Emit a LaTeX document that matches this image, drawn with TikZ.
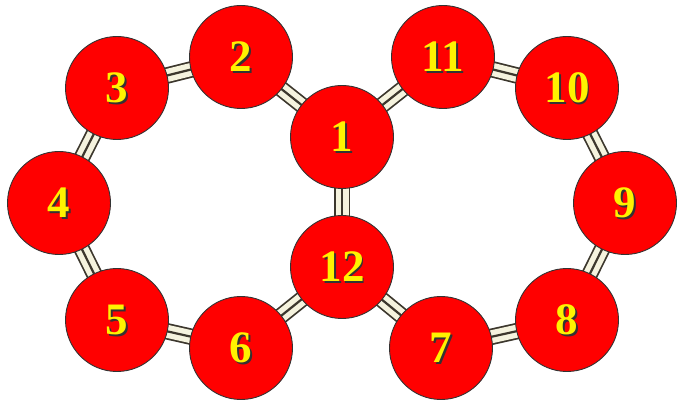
\documentclass[tikz,border=0pt]{standalone}
\usepackage{fontspec}
\setmainfont{Liberation Serif}
\usetikzlibrary{positioning}
\usetikzlibrary{shapes,backgrounds,calc}
\definecolor{bondfill}{RGB}{245,243,222}
\definecolor{bondline}{RGB}{60,55,45}
\tikzset{
    % Define bond style (three dark lines, two light stripes)
    bond/.style={
           draw=bondline,
           line width=16.5pt,
           postaction={draw=bondfill, line width=13pt},
           postaction={draw=bondline, line width=2.2pt},}
}
\newcommand{\atomsize}{103pt}
\newcommand{\atomfont}{\fontsize{45}{45}\selectfont\bfseries}

\begin{document}
\begin{tikzpicture}[x=1pt, y=-1pt]
\tikzset{atom/.style={ circle,
                  draw=black!80, line width=0.9pt,
                  fill=red,
                  minimum size=\atomsize, inner sep=0pt,
                  text=yellow, font=\atomfont,
                  path picture={\node[text=black!80, font=\atomfont]
                     at ([xshift=1.8pt,yshift=-1.8pt]path picture bounding box.center) {#1};}}}

\useasboundingbox (0,0) rectangle (680,403);

\node[atom=1]  (a1)  at (342,137) {1};
\node[atom=2]  (a2)  at (241,57)  {2};
\node[atom=3]  (a3)  at (117,88)  {3};
\node[atom=4]  (a4)  at (59,203)  {4};
\node[atom=5]  (a5)  at (117,320) {5};
\node[atom=6]  (a6)  at (241,348) {6};
\node[atom=12] (a12) at (342,267) {12};
\node[atom=7]  (a7)  at (441,348) {7};
\node[atom=8]  (a8)  at (567,320) {8};
\node[atom=9]  (a9)  at (625,203) {9};
\node[atom=10] (a10) at (567,88)  {10};
\node[atom=11] (a11) at (443,57)  {11};

\begin{scope}[on background layer]
\draw[bond] (a1.center)  -- (a2.center);
\draw[bond] (a2.center)  -- (a3.center);
\draw[bond] (a3.center)  -- (a4.center);
\draw[bond] (a4.center)  -- (a5.center);
\draw[bond] (a5.center)  -- (a6.center);
\draw[bond] (a6.center)  -- (a12.center);
\draw[bond] (a12.center) -- (a7.center);
\draw[bond] (a7.center)  -- (a8.center);
\draw[bond] (a8.center)  -- (a9.center);
\draw[bond] (a9.center)  -- (a10.center);
\draw[bond] (a10.center) -- (a11.center);
\draw[bond] (a11.center) -- (a1.center);
\draw[bond] (a1.center)  -- (a12.center);
\end{scope}

\end{tikzpicture}
\end{document}
